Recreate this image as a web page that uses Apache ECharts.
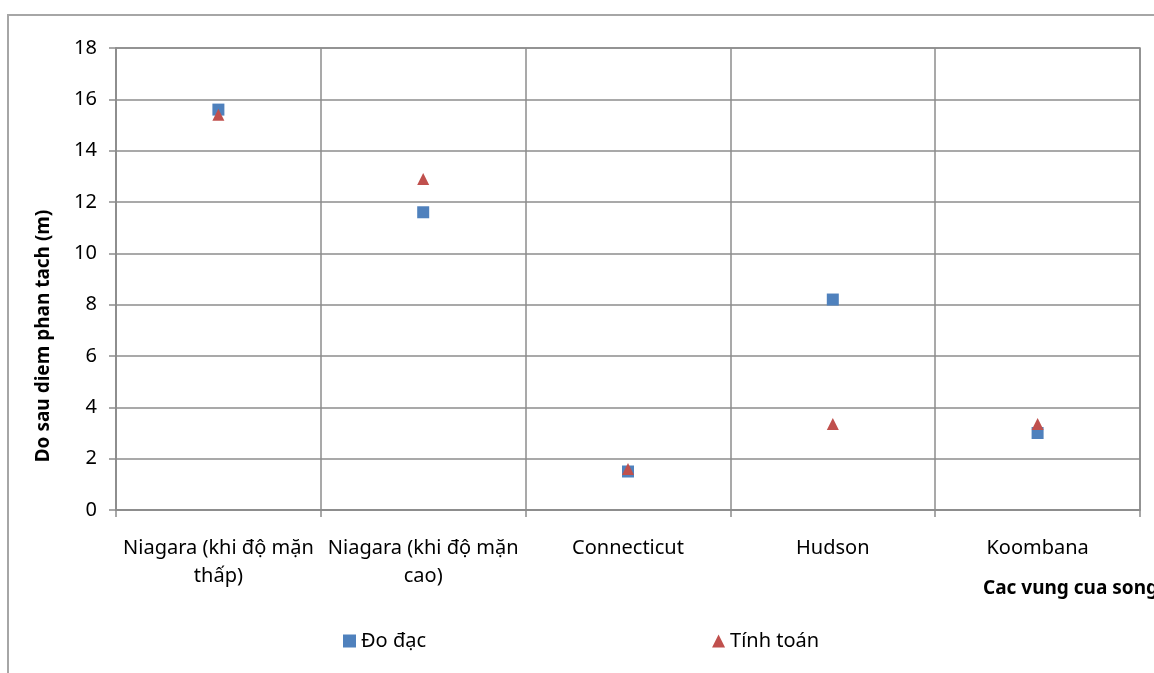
<!DOCTYPE html>
<html>
<head>
<meta charset="utf-8">
<script src="https://cdn.jsdelivr.net/npm/echarts@6/dist/echarts.min.js"></script>
<style>
html,body{margin:0;padding:0;background:#fff;}
#c{width:1154px;height:673px;}
</style>
</head>
<body>
<div id="c"></div>
<script>
const categories = ["Niagara (khi độ mặn\nthấp)", "Niagara (khi độ mặn\ncao)", "Connecticut", "Hudson", "Koombana"];
const measured = [15.6, 11.6, 1.5, 8.2, 3.0];
const computed = [15.4, 12.9, 1.6, 3.35, 3.35];
const yTicks = {min: 0, max: 18, interval: 2};
const seriesNames = ["Đo đạc", "Tính toán"];
const yTitle = "Do sau diem phan tach (m)";
const xTitle = "Cac vung cua song";

const FONT = "Noto Sans";
const chart = echarts.init(document.getElementById('c'));
chart.setOption({
  animation: false,
  backgroundColor: '#fff',
  textStyle: {fontFamily: FONT},
  graphic: [
    {type: 'polyline', shape: {points: [[8, 673], [8, 15], [1154, 15]]}, style: {stroke: '#a6a6a6', lineWidth: 2, fill: null}},
    {type: 'text', left: 983, top: 579, style: {text: xTitle, font: 'bold 19px "' + FONT + '"', fill: '#000'}},
    {type: 'text', x: 44, y: 336, rotation: Math.PI / 2,
     style: {text: yTitle, font: 'bold 19px "' + FONT + '"', fill: '#000', align: 'center', verticalAlign: 'middle'}}
  ],
  grid: {left: 116, right: 14, top: 48, bottom: 163, show: true, borderColor: '#8c8c8c', borderWidth: 1.5},
  legend: {
    left: 338, top: 626, itemGap: 286, itemWidth: 13, itemHeight: 13,
    textStyle: {fontFamily: FONT, fontSize: 20, color: '#000'},
    data: [{name: seriesNames[0], icon: 'rect'}, {name: seriesNames[1], icon: 'triangle'}]
  },
  xAxis: {
    type: 'category', data: categories, boundaryGap: true,
    axisLine: {lineStyle: {color: '#8c8c8c', width: 1.5}},
    axisTick: {show: true, length: 7, lineStyle: {color: '#8c8c8c', width: 1.5}},
    splitLine: {show: true, lineStyle: {color: '#8c8c8c', width: 1.5}},
    axisLabel: {color: '#000', fontSize: 20, fontFamily: FONT, margin: 24, lineHeight: 28, interval: 0}
  },
  yAxis: {
    type: 'value', min: yTicks.min, max: yTicks.max, interval: yTicks.interval,
    axisLine: {show: true, lineStyle: {color: '#8c8c8c', width: 1.5}},
    axisTick: {show: true, length: 7, lineStyle: {color: '#8c8c8c', width: 1.5}},
    splitLine: {show: true, lineStyle: {color: '#8c8c8c', width: 1.5}},
    axisLabel: {color: '#000', fontSize: 20, fontFamily: FONT, margin: 19}
  },
  series: [
    {name: seriesNames[0], type: 'scatter', symbol: 'rect', symbolSize: 12, data: measured,
     itemStyle: {color: '#4f81bd', opacity: 1}, z: 2},
    {name: seriesNames[1], type: 'scatter', symbol: 'triangle', symbolSize: 12, data: computed,
     itemStyle: {color: '#c0504d', opacity: 1}, z: 3}
  ]
});
</script>
</body>
</html>
